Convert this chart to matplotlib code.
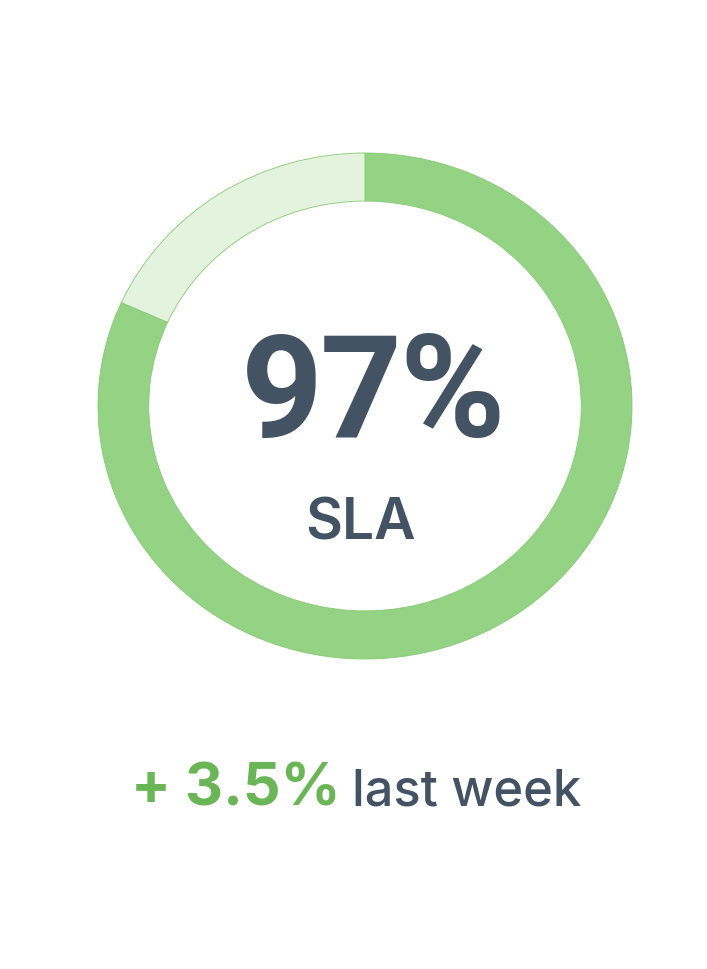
import matplotlib.pyplot as plt

segments = [81.7, 18.3]
segment_colors = ['#94d284', '#e4f3dd']
big_label = '97%'
sub_label = 'SLA'
delta_label = '+ 3.5%'
delta_suffix = 'last week'

W, H = 707, 970
fig = plt.figure(figsize=(W / 100, H / 100), dpi=100)
fig.patch.set_facecolor('white')

# ring axes sized to the ring's bounding box (ring is slightly wider than tall)
left, right, top, bottom = 98, 632, 154, 660
ax = fig.add_axes([left / W, 1 - bottom / H, (right - left) / W, (bottom - top) / H])
ax.pie(segments, colors=segment_colors, startangle=90, counterclock=False,
       radius=1.0, wedgeprops=dict(width=0.19, edgecolor='#86c974', linewidth=0.6))
ax.set_aspect('auto')
ax.set_xlim(-1, 1)
ax.set_ylim(-1, 1)
ax.axis('off')

dark = '#435364'
green = '#6ab556'


def tracked_text(x_center, y_base, s, tracking, **kw):
    # draw string char by char with custom letter spacing, centred on x_center (pixels)
    r = fig.canvas.get_renderer()
    parts = []
    for ch in s:
        t = fig.text(0, 0, ch, ha='left', va='baseline', **kw)
        w = t.get_window_extent(renderer=r).width
        parts.append((t, w))
    total = sum(w for _, w in parts) + tracking * (len(parts) - 1)
    x = x_center - total / 2
    for t, w in parts:
        t.set_position((x / W, 1 - y_base / H))
        x += w + tracking


tracked_text(373, 437, big_label, -3, fontsize=103, fontweight='bold',
             family='Roboto', color=dark)
fig.text(361 / W, 1 - 540 / H, sub_label, ha='center', va='baseline',
         fontsize=41, fontweight='semibold', family='Inter', color=dark)

fig.text(131 / W, 1 - 806 / H, delta_label, ha='left', va='baseline',
         fontsize=42.5, fontweight='bold', family='Inter', color=green)
fig.text(352 / W, 1 - 806 / H, delta_suffix, ha='left', va='baseline',
         fontsize=36.5, fontweight='medium', family='Inter', color=dark)

fig.savefig('out.png', dpi=100, facecolor='white')
